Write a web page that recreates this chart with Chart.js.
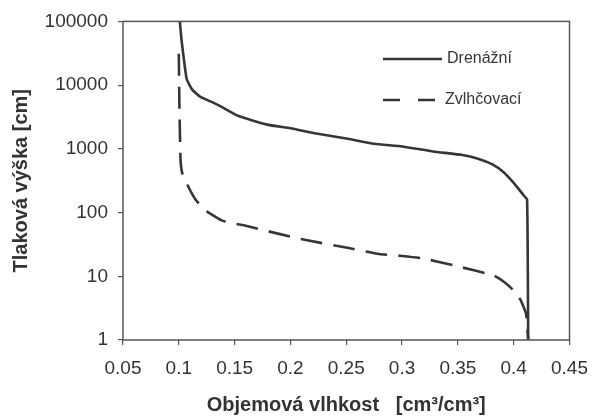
<!DOCTYPE html>
<html>
<head>
<meta charset="utf-8">
<script src="https://cdn.jsdelivr.net/npm/chart.js@4/dist/chart.umd.min.js"></script>
<style>
  html, body { margin: 0; padding: 0; background: #fff; }
  canvas { display: block; }
</style>
</head>
<body>
<canvas id="retention" width="600" height="420"></canvas>
<script>
// Retenční čáry – drenážní a zvlhčovací větev
const seriesNames = ["Drenážní", "Zvlhčovací"];

const drainTheta = [0.1009, 0.1025, 0.107, 0.112, 0.119, 0.135, 0.153, 0.179, 0.2, 0.223, 0.25,
  0.275, 0.3, 0.328, 0.354, 0.368, 0.381, 0.391, 0.398, 0.404, 0.409, 0.412, 0.413];
const drainHead = [100000, 50000, 12600, 8500, 6600, 4900, 3300, 2400, 2100, 1740, 1450,
  1200, 1090, 910, 800, 700, 570, 430, 320, 240, 185, 160, 1];

const wetTheta = [0.1, 0.1005, 0.1012, 0.1016, 0.103, 0.107, 0.111, 0.116, 0.125, 0.1395, 0.16,
  0.186, 0.214, 0.251, 0.278, 0.3, 0.319, 0.347, 0.382, 0.392, 0.4, 0.406, 0.411, 0.413];
const wetHead = [31000, 5000, 1200, 640, 420, 290, 210, 152, 105, 74, 62,
  48, 37, 28, 22.6, 20.8, 19, 14.7, 10.3, 8, 6, 4.3, 2.6, 1];

const yTicks = [1, 10, 100, 1000, 10000, 100000];
const xMin = 0.05, xMax = 0.45, xStep = 0.05;

const ink = "#363636";
const axisGray = "#555";
const font = "'Liberation Sans', Arial, sans-serif";
const wetDash = [22, 11];

function toPoints(xs, ys) {
  return xs.map((x, i) => ({ x: x, y: ys[i] }));
}

// plot frame + legend inside the plot
const frameAndLegend = {
  id: "frameAndLegend",
  afterDraw(chart) {
    const { ctx, chartArea: a } = chart;
    ctx.save();
    ctx.strokeStyle = axisGray;
    ctx.lineWidth = 1.5;
    ctx.strokeRect(a.left, a.top, a.right - a.left, a.bottom - a.top);

    const x0 = 383, x1 = 442;
    const rows = [59, 100];
    ctx.strokeStyle = ink;
    ctx.lineWidth = 2.5;
    ctx.font = "16px " + font;
    ctx.fillStyle = ink;
    ctx.textBaseline = "middle";
    seriesNames.forEach((name, i) => {
      ctx.setLineDash(i === 0 ? [] : [17, 18]);
      ctx.beginPath();
      ctx.moveTo(x0, rows[i]);
      ctx.lineTo(i === 0 ? x1 : 436, rows[i]);
      ctx.stroke();
      ctx.fillText(name, i === 0 ? 447 : 445, rows[i]);
    });
    ctx.restore();
  }
};

new Chart(document.getElementById("retention"), {
  type: "line",
  data: {
    datasets: [
      {
        label: seriesNames[0],
        data: toPoints(drainTheta, drainHead),
        borderColor: ink,
        borderWidth: 2.6,
        pointRadius: 0,
        tension: 0.15
      },
      {
        label: seriesNames[1],
        data: toPoints(wetTheta, wetHead),
        borderColor: ink,
        borderWidth: 2.6,
        borderDash: wetDash,
        pointRadius: 0,
        tension: 0.15
      }
    ]
  },
  options: {
    responsive: false,
    animation: false,
    layout: { padding: { left: 0, right: 21, top: 19, bottom: 0 } },
    plugins: {
      legend: { display: false },
      tooltip: { enabled: false }
    },
    scales: {
      x: {
        type: "linear",
        min: xMin,
        max: xMax,
        ticks: {
          stepSize: xStep,
          color: "#333",
          padding: 12,
          font: { family: font, size: 19 },
          callback: v => String(Number(v.toFixed(2)))
        },
        grid: { drawOnChartArea: false, drawTicks: true, tickLength: 5, color: axisGray, lineWidth: 1.2 },
        border: { display: false },
        title: {
          display: true,
          text: "Objemová vlhkost   [cm³/cm³]",
          color: "#333",
          font: { family: font, size: 20, weight: "bold" },
          padding: { top: 0, bottom: 3 }
        },
        afterFit: s => { s.height = 80; }
      },
      y: {
        type: "logarithmic",
        min: 1,
        max: 100000,
        afterBuildTicks: s => { s.ticks = yTicks.map(v => ({ value: v })); },
        ticks: {
          color: "#333",
          padding: 10,
          font: { family: font, size: 19 },
          callback: v => String(v)
        },
        grid: { drawOnChartArea: false, drawTicks: true, tickLength: 5, color: axisGray, lineWidth: 1.2 },
        border: { display: false },
        title: {
          display: true,
          text: "Tlaková výška [cm]",
          color: "#333",
          font: { family: font, size: 20, weight: "bold" },
          padding: { top: 9, bottom: 0 }
        },
        afterFit: s => { s.width = 123; }
      }
    }
  },
  plugins: [frameAndLegend]
});
</script>
</body>
</html>
